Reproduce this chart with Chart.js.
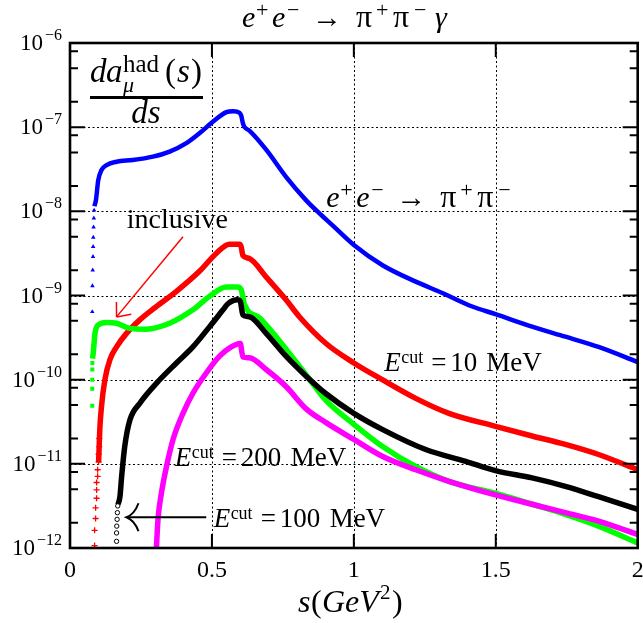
<!DOCTYPE html>
<html><head><meta charset="utf-8">
<script src="https://cdn.jsdelivr.net/npm/chart.js@4.4.0/dist/chart.umd.min.js"></script>
<style>html,body{margin:0;padding:0;background:#fff;overflow:hidden}canvas{display:block}</style>
</head><body>
<canvas id="c" width="643" height="623"></canvas>
<script>
// ---- tick labels ----
const xTickValues = [0, 0.5, 1, 1.5, 2];
const xTickLabels = ['0', '0.5', '1', '1.5', '2'];
const yTickValues = [1e-6, 1e-7, 1e-8, 1e-9, 1e-10, 1e-11, 1e-12];
const yTickBase = '10';
const yTickExp = ['−6', '−7', '−8', '−9', '−10', '−11', '−12'];
const yMinorMantissas = [2, 5, 8];

// ---- e+e- -> pi+pi- (blue) ----
const blueMarkS = [0.0785, 0.0790, 0.0800, 0.0810, 0.0815, 0.0820, 0.0830, 0.0840, 0.0850];
const blueMarkV = [6.4e-10, 1.3e-9, 2.0e-9, 2.9e-9, 3.8e-9, 4.9e-9, 6.5e-9, 8.3e-9, 1.03e-8];
const blueS = [0.086, 0.0914, 0.0994, 0.111, 0.129, 0.164, 0.221, 0.292, 0.351, 0.410, 0.457, 0.502, 0.551, 0.575, 0.597, 0.603, 0.609, 0.615, 0.632, 0.691, 0.761, 0.832, 0.878, 0.925, 1.0, 1.101, 1.218, 1.312, 1.417, 1.499, 1.628, 1.745, 1.862, 2.0];
const blueV = [1.15e-8, 1.36e-8, 2.34e-8, 3.09e-8, 3.55e-8, 3.89e-8, 4.07e-8, 4.47e-8, 5.13e-8, 6.46e-8, 8.51e-8, 1.15e-7, 1.51e-7, 1.55e-7, 1.48e-7, 1.38e-7, 1.12e-7, 1.0e-7, 9.1e-8, 5.4e-8, 2.57e-8, 1.35e-8, 9.5e-9, 6.8e-9, 3.98e-9, 2.29e-9, 1.46e-9, 1.07e-9, 7.4e-10, 6.0e-10, 4.27e-10, 3.24e-10, 2.45e-10, 1.62e-10];

// ---- E_cut = 10 MeV (red) ----
const redMarkS = [0.0867, 0.0867, 0.0902, 0.0902, 0.0937, 0.0937, 0.0937, 0.0973, 0.0973, 0.1008, 0.1008, 0.1030, 0.1030];
const redMarkV = [1.07e-12, 1.62e-12, 2.24e-12, 3.0e-12, 3.9e-12, 4.9e-12, 6.0e-12, 7.1e-12, 8.5e-12, 1.05e-11, 1.3e-11, 1.6e-11, 2.0e-11];
const redS = [0.1008, 0.105, 0.111, 0.123, 0.141, 0.164, 0.199, 0.246, 0.300, 0.375, 0.457, 0.515, 0.562, 0.597, 0.603, 0.609, 0.632, 0.691, 0.761, 0.808, 0.902, 1.0, 1.10, 1.218, 1.335, 1.499, 1.628, 1.745, 1.862, 2.0];
const redV = [1.05e-11, 2.57e-11, 4.8e-11, 1.0e-10, 1.74e-10, 2.45e-10, 3.55e-10, 5.13e-10, 7.2e-10, 1.12e-9, 1.95e-9, 3.16e-9, 4.07e-9, 4.07e-9, 3.8e-9, 3.0e-9, 2.75e-9, 1.66e-9, 8.9e-10, 5.6e-10, 2.69e-10, 1.58e-10, 1.0e-10, 6.0e-11, 3.98e-11, 2.79e-11, 2.14e-11, 1.70e-11, 1.29e-11, 8.5e-12];

// ---- inclusive (green) ----
const greenMarkS = [0.0784, 0.0784, 0.0784, 0.0786, 0.0788];
const greenMarkV = [4.9e-11, 7.8e-11, 1.0e-10, 1.32e-10, 1.58e-10];
const greenS = [0.0795, 0.082, 0.088, 0.100, 0.129, 0.164, 0.211, 0.269, 0.351, 0.433, 0.492, 0.551, 0.590, 0.603, 0.615, 0.668, 0.726, 0.785, 0.843, 0.90, 1.0, 1.10, 1.218, 1.335, 1.499, 1.628, 1.745, 1.862, 2.0];
const greenV = [1.78e-10, 2.09e-10, 3.55e-10, 4.47e-10, 4.79e-10, 4.68e-10, 4.07e-10, 3.98e-10, 4.68e-10, 6.76e-10, 9.8e-10, 1.26e-9, 1.26e-9, 1.17e-9, 7.8e-10, 5.4e-10, 3.24e-10, 1.82e-10, 1.02e-10, 5.75e-11, 2.95e-11, 1.62e-11, 9.3e-12, 6.2e-12, 4.47e-12, 3.31e-12, 2.51e-12, 1.82e-12, 1.15e-12];

// ---- E_cut = 100 MeV (black) ----
const blackMarkS = [0.1640, 0.1640, 0.1647, 0.1659, 0.1670, 0.1682];
const blackMarkV = [1.2e-12, 1.51e-12, 1.82e-12, 2.19e-12, 2.63e-12, 3.16e-12];
const blackS = [0.1690, 0.176, 0.182, 0.193, 0.211, 0.246, 0.305, 0.375, 0.433, 0.492, 0.539, 0.555, 0.574, 0.590, 0.600, 0.609, 0.632, 0.691, 0.761, 0.832, 0.902, 1.0, 1.10, 1.253, 1.394, 1.499, 1.628, 1.745, 1.862, 2.0];
const blackV = [3.3e-12, 4.07e-12, 7.1e-12, 1.62e-11, 3.31e-11, 5.25e-11, 9.1e-11, 1.58e-10, 2.45e-10, 4.27e-10, 6.76e-10, 7.9e-10, 8.7e-10, 8.9e-10, 8.5e-10, 5.9e-10, 5.6e-10, 3.55e-10, 1.9e-10, 1.1e-10, 6.8e-11, 3.98e-11, 2.57e-11, 1.48e-11, 1.07e-11, 8.3e-12, 6.8e-12, 5.4e-12, 4.07e-12, 2.88e-12];

// ---- E_cut = 200 MeV (magenta) ----
const magS = [0.303, 0.310, 0.322, 0.340, 0.363, 0.398, 0.433, 0.480, 0.527, 0.568, 0.600, 0.609, 0.632, 0.691, 0.761, 0.832, 0.902, 1.0, 1.10, 1.218, 1.335, 1.499, 1.628, 1.745, 1.862, 2.0];
const magV = [8.0e-13, 2.19e-12, 4.47e-12, 9.3e-12, 1.95e-11, 3.98e-11, 6.9e-11, 1.2e-10, 1.9e-10, 2.45e-10, 2.69e-10, 1.86e-10, 1.82e-10, 1.32e-10, 8.3e-11, 4.5e-11, 3.09e-11, 1.95e-11, 1.23e-11, 8.5e-12, 6.2e-12, 4.27e-12, 3.31e-12, 2.63e-12, 2.09e-12, 1.45e-12];

const pts = (xs, ys) => xs.map((x, i) => ({x: x, y: ys[i]}));
const SERIF = '"Liberation Serif","DejaVu Serif",serif';
const fnt = (size, it) => (it ? 'italic ' : '') + size + 'px ' + SERIF;

function lineDs(label, xs, ys, color, w) {
  return {label, data: pts(xs, ys), borderColor: color, backgroundColor: color, borderWidth: w,
    pointRadius: 0, fill: false, cubicInterpolationMode: 'monotone', showLine: true};
}
function markDs(label, xs, ys, color, style, r, fillColor, bw) {
  return {label, data: pts(xs, ys), showLine: false, pointStyle: style, pointRadius: r,
    borderColor: color, backgroundColor: fillColor, pointBorderWidth: bw, borderWidth: bw};
}

function drawSegs(ctx, x0, y0, list) {
  ctx.textAlign = 'left'; ctx.textBaseline = 'alphabetic';
  for (const s of list) { ctx.font = fnt(s.s, s.i); ctx.fillText(s.t, x0 + s.x, y0 + (s.dy || 0)); }
}
function reaction(withGamma) {
  const l = [
    {t: 'e', x: 0, s: 30, i: true}, {t: '+', x: 14, s: 22, dy: -10},
    {t: 'e', x: 30, s: 30, i: true}, {t: '−', x: 45, s: 22, dy: -10},
    {t: '→', x: 70, s: 30}, {t: 'π', x: 114, s: 32}, {t: '+', x: 134, s: 22, dy: -10},
    {t: 'π', x: 151, s: 32}, {t: '−', x: 172, s: 22, dy: -10}];
  if (withGamma) l.push({t: 'γ', x: 193, s: 30, i: true});
  return l;
}
function ecut(val) {
  const nx = val.length === 2 ? 102 : 116;
  return [{t: 'E', x: 0, s: 27, i: true}, {t: 'cut', x: 17, s: 18, dy: -8},
    {t: '=', x: 47, s: 27}, {t: val, x: 66, s: 27}, {t: 'MeV', x: nx, s: 27}];
}
function arrowHead(ctx, tx, ty, ang, len, spread) {
  for (const sgn of [1, -1]) {
    const a = ang + Math.PI + sgn * spread;
    ctx.beginPath(); ctx.moveTo(tx, ty); ctx.lineTo(tx + len * Math.cos(a), ty + len * Math.sin(a)); ctx.stroke();
  }
}

const deco = {
  id: 'deco',
  beforeDatasetsDraw(chart) {
    const {ctx, chartArea: a, scales: {x, y}} = chart;
    ctx.save();
    ctx.strokeStyle = '#000'; ctx.lineWidth = 1; ctx.setLineDash([2, 2.5]);
    for (const v of xTickValues.slice(1, -1)) {
      const px = Math.round(x.getPixelForValue(v)) + 0.5;
      ctx.beginPath(); ctx.moveTo(px, a.top); ctx.lineTo(px, a.bottom); ctx.stroke();
    }
    for (const v of yTickValues.slice(1, -1)) {
      const py = Math.round(y.getPixelForValue(v)) + 0.5;
      ctx.beginPath(); ctx.moveTo(a.left, py); ctx.lineTo(a.right, py); ctx.stroke();
    }
    ctx.restore();
  },
  afterDatasetsDraw(chart) {
    const {ctx, chartArea: a, scales: {x, y}} = chart;
    const P = (s, v) => [x.getPixelForValue(s), y.getPixelForValue(v)];
    ctx.save();
    ctx.fillStyle = '#000'; ctx.strokeStyle = '#000'; ctx.setLineDash([]);
    // ticks
    ctx.lineWidth = 2;
    for (const v of yTickValues.slice(1, -1)) {
      const py = y.getPixelForValue(v);
      ctx.beginPath(); ctx.moveTo(a.left, py); ctx.lineTo(a.left + 15, py);
      ctx.moveTo(a.right, py); ctx.lineTo(a.right - 15, py); ctx.stroke();
    }
    for (let d = -12; d < -6; d++) for (const m of yMinorMantissas) {
      const py = y.getPixelForValue(m * Math.pow(10, d));
      ctx.beginPath(); ctx.moveTo(a.left, py); ctx.lineTo(a.left + 8, py);
      ctx.moveTo(a.right, py); ctx.lineTo(a.right - 8, py); ctx.stroke();
    }
    for (const v of xTickValues.slice(1, -1)) {
      const px = x.getPixelForValue(v);
      ctx.beginPath(); ctx.moveTo(px, a.bottom); ctx.lineTo(px, a.bottom - 14);
      ctx.moveTo(px, a.top); ctx.lineTo(px, a.top + 14); ctx.stroke();
    }
    // frame
    ctx.lineWidth = 2.6;
    ctx.strokeRect(a.left, a.top, a.right - a.left, a.bottom - a.top);
    // x tick labels
    ctx.font = fnt(24); ctx.textAlign = 'center'; ctx.textBaseline = 'alphabetic';
    xTickValues.forEach((v, i) => ctx.fillText(xTickLabels[i], x.getPixelForValue(v), a.bottom + 29));
    // y tick labels
    yTickValues.forEach((v, i) => {
      const py = y.getPixelForValue(v);
      ctx.font = fnt(16); const we = ctx.measureText(yTickExp[i]).width;
      ctx.font = fnt(23); const wb = ctx.measureText(yTickBase).width;
      const right = a.left - 8, xb = right - we - wb - 2;
      ctx.textAlign = 'left';
      ctx.fillText(yTickBase, xb, py + 7);
      ctx.font = fnt(16); ctx.fillText(yTickExp[i], xb + wb + 2, py - 3);
    });
    // title
    drawSegs(ctx, a.left + 172, 27, reaction(true));
    // axis title s(GeV^2)
    drawSegs(ctx, a.left + 228, 612, [
      {t: 's', x: 0, s: 32, i: true}, {t: '(', x: 13, s: 32}, {t: 'GeV', x: 24, s: 32, i: true},
      {t: '2', x: 82, s: 21, dy: -13}, {t: ')', x: 94, s: 32}]);
    // y label fraction
    drawSegs(ctx, a.left + 20, 82, [
      {t: 'd', x: 0, s: 33, i: true}, {t: 'a', x: 16, s: 33, i: true},
      {t: 'had', x: 33, s: 25, dy: -10}, {t: 'μ', x: 33, s: 22, i: true, dy: 10},
      {t: '(', x: 75, s: 33}, {t: 's', x: 87, s: 33, i: true}, {t: ')', x: 101, s: 33}]);
    ctx.fillRect(a.left + 20, 96, 113, 3);
    ctx.font = fnt(33, true); ctx.textAlign = 'center';
    ctx.fillText('ds', a.left + 76, 123);
    // in-plot labels (anchored in data coordinates)
    let p = P(0.903, 1.125e-8); drawSegs(ctx, p[0], p[1], reaction(false));
    p = P(0.200, 6.3e-9); ctx.font = fnt(28); ctx.textAlign = 'left'; ctx.fillText('inclusive', p[0], p[1]);
    p = P(1.107, 1.285e-10); drawSegs(ctx, p[0], p[1], ecut('10'));
    p = P(0.369, 9.33e-12); drawSegs(ctx, p[0], p[1], ecut('200'));
    p = P(0.506, 1.77e-12); drawSegs(ctx, p[0], p[1], ecut('100'));
    // red arrow
    const r0 = P(0.398, 5.0e-9), r1 = P(0.164, 5.57e-10);
    ctx.strokeStyle = '#ff0000'; ctx.lineWidth = 1.5;
    ctx.beginPath(); ctx.moveTo(r0[0], r0[1]); ctx.lineTo(r1[0], r1[1]); ctx.stroke();
    arrowHead(ctx, r1[0], r1[1], Math.atan2(r1[1] - r0[1], r1[0] - r0[0]), 15, 0.7);
    // black arrow
    const b0 = P(0.480, 2.32e-12), b1 = P(0.199, 2.32e-12);
    ctx.strokeStyle = '#000'; ctx.lineWidth = 2;
    ctx.beginPath(); ctx.moveTo(b0[0], b0[1]); ctx.lineTo(b1[0] + 1, b1[1]); ctx.stroke();
    ctx.beginPath();
    ctx.moveTo(b1[0] + 12, b1[1] - 14); ctx.quadraticCurveTo(b1[0] + 8, b1[1] - 3, b1[0], b1[1]);
    ctx.quadraticCurveTo(b1[0] + 8, b1[1] + 3, b1[0] + 12, b1[1] + 14); ctx.stroke();
    ctx.restore();
  }
};

const noAxis = {display: true, ticks: {display: false}, grid: {display: false, drawTicks: false}, border: {display: false}, title: {display: false}};

new Chart(document.getElementById('c'), {
  type: 'line',
  data: {
    datasets: [
      lineDs('E_cut = 200 MeV', magS, magV, '#ff00ff', 5.5),
      markDs('E_cut = 100 MeV (low)', blackMarkS, blackMarkV, '#000000', 'circle', 2.2, '#ffffff', 1),
      lineDs('E_cut = 100 MeV', blackS, blackV, '#000000', 5.5),
      markDs('inclusive (low)', greenMarkS, greenMarkV, '#00ff00', 'rect', 2.8, '#00ff00', 0),
      lineDs('inclusive', greenS, greenV, '#00ff00', 5.5),
      markDs('E_cut = 10 MeV (low)', redMarkS, redMarkV, '#ff0000', 'cross', 3, '#ff0000', 1.3),
      lineDs('E_cut = 10 MeV', redS, redV, '#ff0000', 5.5),
      markDs('e+e- -> pi+pi- (low)', blueMarkS, blueMarkV, '#0000ff', 'triangle', 2.6, '#0000ff', 0),
      lineDs('e+e- -> pi+pi-', blueS, blueV, '#0000ff', 4.5)
    ]
  },
  options: {
    responsive: false, animation: false, devicePixelRatio: 1,
    layout: {padding: {left: 70, right: 3, top: 43, bottom: 75}},
    plugins: {legend: {display: false}, tooltip: {enabled: false}, title: {display: false}},
    scales: {
      x: Object.assign({type: 'linear', min: 0, max: 2}, noAxis),
      y: Object.assign({type: 'logarithmic', min: 1e-12, max: 1e-6}, noAxis)
    }
  },
  plugins: [deco]
});
</script>
</body></html>
